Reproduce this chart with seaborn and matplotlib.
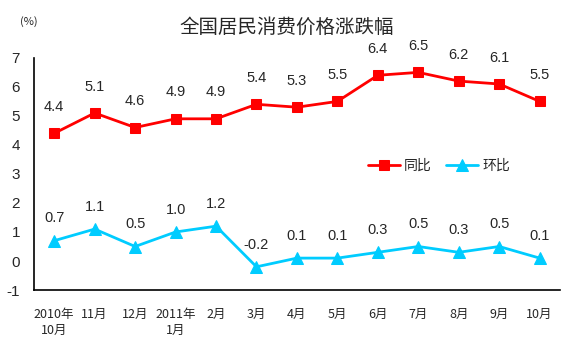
import matplotlib
matplotlib.use('Agg')
import matplotlib.pyplot as plt
import seaborn as sns
import numpy as np

# months and values
months = ['2010年\n10月', '11月', '12月', '2011年\n1月', '2月', '3月', '4月',
          '5月', '6月', '7月', '8月', '9月', '10月']
yoy = [4.4, 5.1, 4.6, 4.9, 4.9, 5.4, 5.3, 5.5, 6.4, 6.5, 6.2, 6.1, 5.5]   # 同比
mom = [0.7, 1.1, 0.5, 1.0, 1.2, -0.2, 0.1, 0.1, 0.3, 0.5, 0.3, 0.5, 0.1]  # 环比
yticks = [-1, 0, 1, 2, 3, 4, 5, 6, 7]

sns.set_style('white')
plt.rcParams['font.family'] = ['Liberation Sans', 'Noto Sans CJK SC', 'DejaVu Sans']
cjk = ['Noto Sans CJK SC', 'DejaVu Sans']

red = '#ff0000'
cyan = '#00ccff'

fig = plt.figure(figsize=(5.76, 3.55), dpi=100)
ax = fig.add_axes([0.059, 0.183, 0.913, 0.654])

x = np.arange(len(months))
sns.lineplot(x=x, y=yoy, ax=ax, color=red, marker='s', markersize=7,
             markeredgecolor=red, linewidth=2, label='同比')
sns.lineplot(x=x, y=mom, ax=ax, color=cyan, marker='^', markersize=8,
             markeredgecolor=cyan, linewidth=2, label='环比')

for i in x:
    ax.annotate(f'{yoy[i]:.1f}', (i, yoy[i]), xytext=(0, 14), textcoords='offset points',
                ha='center', va='bottom', fontsize=10.5)
    ax.annotate(f'{mom[i]:.1f}', (i, mom[i]), xytext=(0, 11), textcoords='offset points',
                ha='center', va='bottom', fontsize=10.5)

ax.set_xlim(-0.5, len(months) - 0.5)
ax.set_ylim(-1, 7)
ax.set_yticks(yticks)
ax.set_yticklabels([str(v) for v in yticks], fontsize=11)
ax.set_xticks(x)
ax.set_xticklabels(months, fontsize=9, family=cjk, va='top', linespacing=1.3)
ax.set_xticks(np.arange(len(months)) + 0.5, minor=True)
ax.tick_params(axis='x', which='major', length=0, pad=13)
ax.tick_params(axis='x', which='minor', length=5, width=1, direction='in', color='black')
ax.tick_params(axis='y', length=5, width=1, direction='in', color='black', pad=10)

for s in ['top', 'right']:
    ax.spines[s].set_visible(False)
for s in ['left', 'bottom']:
    ax.spines[s].set_color('black')
    ax.spines[s].set_linewidth(1.2)

leg = ax.legend(ncol=2, frameon=False, loc='center', bbox_to_anchor=(0.77, 0.534),
                prop={'family': cjk, 'size': 10}, handlelength=2.3, columnspacing=1.0,
                handletextpad=0.3)

fig.text(0.498, 0.923, '全国居民消费价格涨跌幅', ha='center', va='center',
         fontsize=14, family=cjk)
fig.text(0.05, 0.938, '(%)', ha='center', va='center', fontsize=8, family=cjk)

fig.savefig('out.png', dpi=100)
